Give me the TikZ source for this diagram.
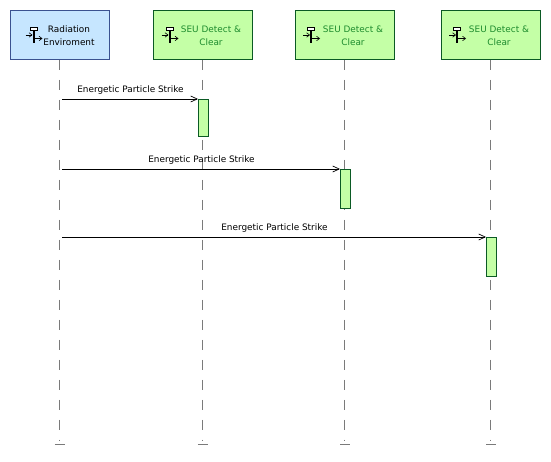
\documentclass[tikz,border=0pt]{standalone}
\usepackage{fontspec}
\setmainfont{DejaVu Sans}
\definecolor{bluefill}{HTML}{C6E6FF}
\definecolor{blueline}{HTML}{3A5290}
\definecolor{greenfill}{HTML}{C4FFA6}
\definecolor{greenline}{HTML}{0B5A24}
\definecolor{greentext}{HTML}{1E8C2E}
\definecolor{lifegray}{HTML}{7A7A7A}
\usetikzlibrary{arrows.meta}
\tikzset{
 x=1pt,y=-1pt,
 lifebox/.style={minimum width=99pt,minimum height=49pt,inner sep=0pt,line width=0.9pt,draw},
 envbox/.style={lifebox,draw=blueline,fill=bluefill},
 seubox/.style={lifebox,draw=greenline,fill=greenfill},
 boxtext/.style={font=\fontsize{8.9}{13}\selectfont,align=center,inner sep=0pt},
 msgtext/.style={font=\fontsize{8.9}{11}\selectfont,inner sep=0pt},
 lifeline/.style={draw=lifegray,line width=0.9pt,dash pattern=on 10pt off 10pt},
 lifeend/.style={draw=lifegray,line width=0.9pt},
 actbar/.style={draw=greenline,fill=greenfill,line width=0.9pt,minimum width=9.5pt,inner sep=0pt,anchor=north west},
 msg/.style={draw=black,line width=0.9pt,-{Straight Barb[length=6.5pt,width=6pt,line width=0.7pt]}},
}
\newcommand{\lifeicon}[2]{%
 \begin{scope}[shift={(#1,#2)}]
  \fill[black] (-1,3) rectangle (1,16.5);
  \draw[black,line width=0.9pt,fill=white] (-3.5,0) rectangle (3.5,3);
  \draw[black,line width=0.7pt,-{Straight Barb[length=3pt,width=4.5pt,line width=0.6pt]}] (-8,8) -- (-1,8);
  \draw[black,line width=0.7pt,-{Straight Barb[length=3pt,width=4.5pt,line width=0.6pt]}] (1,11.5) -- (9,11.5);
 \end{scope}}
\begin{document}
\begin{tikzpicture}
\useasboundingbox (0,0) rectangle (551,462);
\fill[white] (0,0) rectangle (551,462);
% lifeline ends
\coordinate (e1) at (59.3,441);
\coordinate (e2) at (202.3,441);
\coordinate (e3) at (344.5,441);
\coordinate (e4) at (490.5,441);
% header boxes
\node[envbox] (h1) at (60,35) {};
\node[seubox] (h2) at (203,35) {};
\node[seubox] (h3) at (344.5,35) {};
\node[seubox] (h4) at (490.5,35) {};
% lifelines
\draw[lifeline] (h1.south -| e1) -- (e1);
\draw[lifeline] (h2.south -| e2) -- (e2);
\draw[lifeline] (h3.south -| e3) -- (e3);
\draw[lifeline] (h4.south -| e4) -- (e4);
\foreach \c in {e1,e2,e3,e4}{\draw[lifeend] ([xshift=-4.5pt,yshift=-3.3pt]\c) -- ([xshift=5.5pt,yshift=-3.3pt]\c);}
% icons
\lifeicon{33.5}{27}
\lifeicon{169.5}{27}
\lifeicon{311}{27}
\lifeicon{457}{27}
% header text
\node[boxtext] (t1) at (69,35.5) {Radiation\\Enviroment};
\node[boxtext,text=greentext] (t2) at (211,35.5) {SEU Detect \&\\Clear};
\node[boxtext,text=greentext] (t3) at (353,35.5) {SEU Detect \&\\Clear};
\node[boxtext,text=greentext] (t4) at (499,35.5) {SEU Detect \&\\Clear};
% activations
\node[actbar,minimum height=37pt] (a1) at (198,99) {};
\node[actbar,minimum height=39pt] (a2) at (340,169) {};
\node[actbar,minimum height=39pt] (a3) at (486,237) {};
% message sources
\coordinate (s1) at (62,99);
\coordinate (s2) at (62,169);
\coordinate (s3) at (62,237);
% messages
\draw[msg] (s1) -- (a1.north west);
\draw[msg] (s2) -- (a2.north west);
\draw[msg] (s3) -- (a3.north west);
\node[msgtext] (m1) at (130.5,90.5) {Energetic Particle Strike};
\node[msgtext] (m2) at (201.5,160.5) {Energetic Particle Strike};
\node[msgtext] (m3) at (274.5,228.5) {Energetic Particle Strike};
\end{tikzpicture}
\end{document}
